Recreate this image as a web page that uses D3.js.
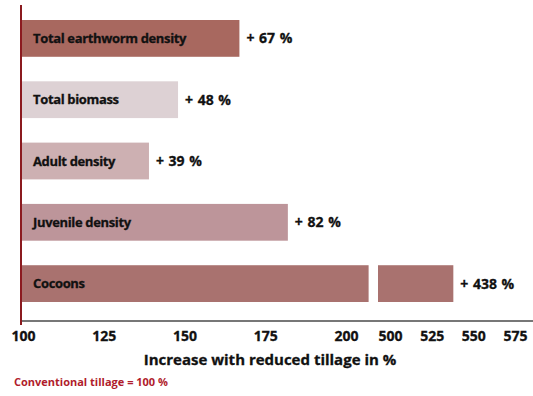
<!DOCTYPE html>
<html lang="en">
<head>
  <meta charset="UTF-8">
  <title>Increase with reduced tillage</title>
  <script src="https://d3js.org/d3.v7.min.js"></script>
  <style>
    body { margin: 0; background: #fff; }
    svg { font-family: "Open Sans", Arial, sans-serif; font-weight: 700; }
  </style>
</head>
<body>
  <svg id="chart"></svg>

  <script>
    // chart data
    const categories = ["Total earthworm density", "Total biomass", "Adult density", "Juvenile density", "Cocoons"];
    const increases = [67, 48, 39, 82, 438];   // % increase over conventional tillage
    const barColors = ["#a8685f", "#ddd1d4", "#cdb0b2", "#bd959a", "#a9726f"];
    const lowTicks = [100, 125, 150, 175, 200];
    const highTicks = [500, 525, 550, 575];
    // where the cocoon bar is cut on each side of the axis break
    const breakLow = 207, breakHigh = 494;

    const W = 533, H = 396;
    const svg = d3.select("#chart").attr("width", W).attr("height", H);

    // broken x axis: two linear pieces
    const xLow = d3.scaleLinear().domain([100, 200]).range([23, 346]);
    const xHigh = d3.scaleLinear().domain([500, 575]).range([390, 515]);

    const y = d3.scaleBand()
      .domain(categories)
      .range([20, 302])
      .paddingInner(0.4)
      .paddingOuter(0);

    const rows = categories.map((c, i) => ({ name: c, inc: increases[i], total: 100 + increases[i], color: barColors[i] }));

    // bars (cocoons are split across the break)
    const g = svg.append("g");
    rows.forEach(d => {
      const segs = d.total <= 200
        ? [[xLow(100), xLow(d.total)]]
        : [[xLow(100), xLow(breakLow)], [xHigh(breakHigh), xHigh(d.total)]];
      d.end = segs[segs.length - 1][1];
      segs.forEach(s => {
        g.append("rect")
          .attr("x", s[0] - 2)
          .attr("y", y(d.name))
          .attr("width", s[1] - s[0] + 2)
          .attr("height", y.bandwidth())
          .attr("fill", d.color);
      });
    });

    // category labels inside bars
    g.selectAll(".cat")
      .data(rows)
      .enter().append("text")
      .attr("x", xLow(100) + 10)
      .attr("y", d => y(d.name) + y.bandwidth() / 2)
      .attr("dy", "0.35em")
      .style("font-size", "13px")
      .style("letter-spacing", "-0.35px")
      .style("stroke", "#111")
      .style("stroke-width", "0.3px")
      .attr("fill", "#111")
      .text(d => d.name);

    // value labels
    g.selectAll(".val")
      .data(rows)
      .enter().append("text")
      .attr("x", d => d.end + 7)
      .attr("y", d => y(d.name) + y.bandwidth() / 2)
      .attr("dy", "0.35em")
      .style("font-size", "14px")
      .style("word-spacing", "1px")
      .style("stroke", "#111")
      .style("stroke-width", "0.3px")
      .attr("fill", "#111")
      .text(d => "+ " + d.inc + " %");

    // baseline
    svg.append("line")
      .attr("x1", 21).attr("x2", W)
      .attr("y1", 321).attr("y2", 321)
      .attr("stroke", "#777")
      .attr("stroke-width", 2);

    // 100 % reference line
    svg.append("line")
      .attr("x1", 21).attr("x2", 21)
      .attr("y1", 5).attr("y2", 325)
      .attr("stroke", "#8b1a1f")
      .attr("stroke-width", 2);

    // tick labels
    const axisLow = svg.append("g")
      .attr("transform", "translate(0,326)")
      .call(d3.axisBottom(xLow).tickValues(lowTicks).tickSize(0).tickPadding(5));
    const axisHigh = svg.append("g")
      .attr("transform", "translate(0,326)")
      .call(d3.axisBottom(xHigh).tickValues(highTicks).tickSize(0).tickPadding(5));
    [axisLow, axisHigh].forEach(a => {
      a.select(".domain").remove();
      a.selectAll("text")
        .style("font-family", "'Open Sans', Arial, sans-serif")
        .style("font-weight", 700)
        .style("font-size", "14px")
        .style("stroke", "#111")
        .style("stroke-width", "0.3px")
        .attr("fill", "#111");
    });

    // axis title
    svg.append("text")
      .attr("x", 270)
      .attr("y", 365)
      .attr("text-anchor", "middle")
      .style("font-size", "15px")
      .style("stroke", "#111")
      .style("stroke-width", "0.3px")
      .attr("fill", "#111")
      .text("Increase with reduced tillage in %");

    // note
    svg.append("text")
      .attr("x", 14)
      .attr("y", 386)
      .style("font-size", "11px")
      .attr("fill", "#b01c2c")
      .text("Conventional tillage = 100 %");
  </script>
</body>
</html>
